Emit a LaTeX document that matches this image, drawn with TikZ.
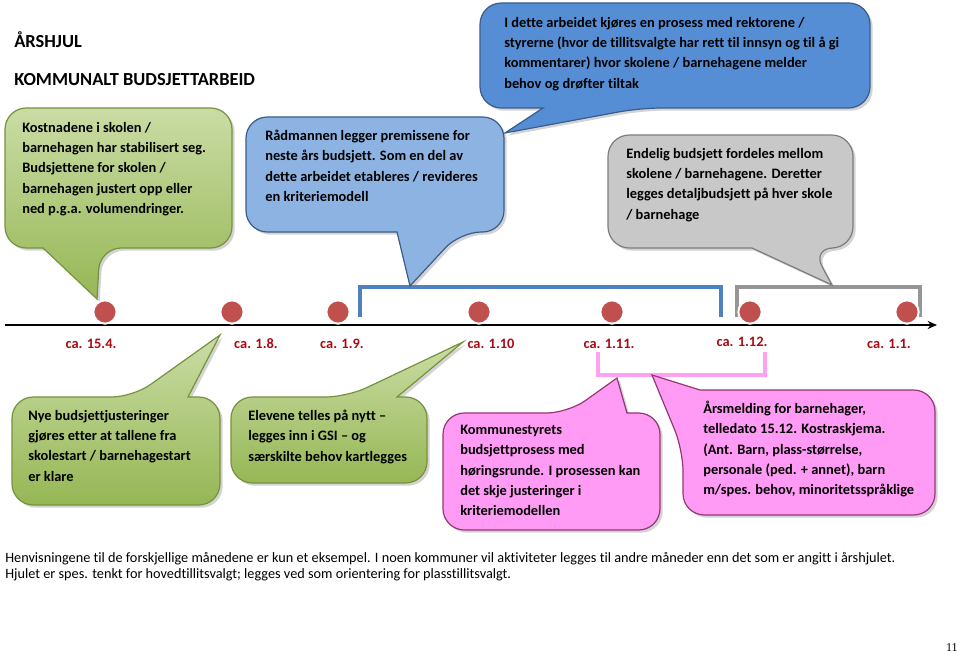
\documentclass[tikz,border=0pt]{standalone}
\usepackage{fontspec}
\setmainfont{Carlito}[Ligatures=NoCommon]
\newfontfamily\pagefont{Liberation Serif}
\usetikzlibrary{shadows,arrows.meta}

\definecolor{greentop}{RGB}{202,220,165}
\definecolor{greenbot}{RGB}{150,183,85}
\definecolor{greenline}{RGB}{118,146,60}
\definecolor{bluedark}{RGB}{85,142,213}
\definecolor{bluelight}{RGB}{141,179,226}
\definecolor{blueline}{RGB}{56,93,138}
\definecolor{grayfill}{RGB}{200,200,200}
\definecolor{grayline}{RGB}{125,125,125}
\definecolor{pinkfill}{RGB}{255,155,245}
\definecolor{pinkline}{RGB}{150,55,115}
\definecolor{dotred}{RGB}{192,80,77}
\definecolor{datered}{RGB}{170,10,20}
\definecolor{barblue}{RGB}{79,129,189}
\definecolor{bargray}{RGB}{150,150,150}
\definecolor{barpink}{RGB}{255,160,240}

\tikzset{
  bubble/.style={rounded corners=16, line width=0.9pt,
    drop shadow={shadow xshift=2pt, shadow yshift=-2pt, opacity=0.35}},
  greenbubble/.style={bubble, draw=greenline, top color=greentop, bottom color=greenbot},
  darkbubble/.style={bubble, draw=blueline, fill=bluedark},
  lightbubble/.style={bubble, draw=blueline, fill=bluelight},
  graybubble/.style={bubble, draw=grayline, fill=grayfill},
  pinkbubble/.style={bubble, draw=pinkline, fill=pinkfill},
  bubbletext/.style={anchor=north west, inner sep=0pt, align=left,
    font=\fontsize{10.8}{15.2}\selectfont\bfseries},
  datelabel/.style={anchor=base, inner sep=0pt, text=datered,
    font=\fontsize{10.8}{13}\selectfont\bfseries},
  datedot/.style={circle, fill=dotred, draw=white, line width=1.5pt,
    minimum size=17.5pt, inner sep=0pt},
  bracket/.style={line width=3pt},
  heading/.style={anchor=base west, inner sep=0pt, font=\fontsize{13.8}{16}\selectfont\bfseries},
}

\begin{document}
\begin{tikzpicture}[x=0.75pt,y=0.75pt,yscale=-1,xscale=1]
\useasboundingbox (0,0) rectangle (960,655);

% headings
\node[heading] (title) at (14,48) {ÅRSHJUL};
\node[heading] (subtitle) at (14,86) {KOMMUNALT BUDSJETTARBEID};

% timeline
\coordinate (tlstart) at (5,325);
\coordinate (tlend) at (937,325);
\draw[line width=2.2pt, -{Stealth[length=7pt,width=6pt]}] (tlstart) -- (tlend);

% brackets
\draw[bracket, draw=barblue] (360,317) -- (360,287) -- (721,287) -- (721,317);
\draw[bracket, draw=bargray, line width=3.6pt] (737,317) -- (737,287) -- (920,287) -- (920,317);
\draw[bracket, draw=barpink] (598,352) -- (598,375) -- (765,375) -- (765,352);

% dates
\node[datedot] (d1) at (105,312) {};
\node[datedot] (d2) at (232,312) {};
\node[datedot] (d3) at (338,312) {};
\node[datedot] (d4) at (479,312) {};
\node[datedot] (d5) at (612,312) {};
\node[datedot] (d6) at (750,312) {};
\node[datedot] (d7) at (907,312) {};

\node[datelabel] (l1) at (91,349) {ca. 15.4.};
\node[datelabel] (l2) at (256,349) {ca. 1.8.};
\node[datelabel] (l3) at (342,349) {ca. 1.9.};
\node[datelabel] (l4) at (491,349) {ca. 1.10};
\node[datelabel] (l5) at (609,349) {ca. 1.11.};
\node[datelabel] (l6) at (742,347) {ca. 1.12.};
\node[datelabel] (l7) at (889,349) {ca. 1.1.};

% pointer tips
\coordinate (kosttip) at (97,299);
\coordinate (radmtip) at (410,286);
\coordinate (prosesstip) at (505,133);
\coordinate (endeligtip) at (832,285);
\coordinate (nyetip) at (220,335);
\coordinate (elevtip) at (463,342);
\coordinate (kommunetip) at (617,378);
\coordinate (aarstip) at (652,375);

% callouts above the line
\path[greenbubble] (5,108) -- (232,108) -- (232,248) -- (100,248) [sharp corners] -- (kosttip) -- (43,248) [rounded corners=16] -- (5,248) -- cycle;
\path[lightbubble] (246,117) -- (504,117) -- (504,232) -- (460,232) [sharp corners] -- (radmtip) -- (397,232) [rounded corners=16] -- (246,232) -- cycle;
\path[darkbubble] (480,3) -- (870,3) -- (870,108) -- (640,108) [sharp corners] -- (prosesstip) -- (543,108) [rounded corners=16] -- (480,108) -- cycle;
\path[graybubble] (608,135) -- (853,135) -- (853,248) -- (812,248) [sharp corners] -- (endeligtip) -- (752,248) [rounded corners=16] -- (608,248) -- cycle;

% callouts below the line
\path[greenbubble] (12,397) -- (133,397) [sharp corners] -- (nyetip) -- (188,397) [rounded corners=16] -- (220,397) -- (220,505) -- (12,505) -- cycle;
\path[greenbubble] (231,397) -- (347,397) [sharp corners] -- (elevtip) -- (397,397) [rounded corners=16] -- (427,397) -- (427,483) -- (231,483) -- cycle;
\path[pinkbubble] (443,413) -- (568,413) [sharp corners] -- (kommunetip) -- (627,413) [rounded corners=16] -- (660,413) -- (660,530) -- (443,530) -- cycle;
\path[pinkbubble] (683,450) [sharp corners] -- (aarstip) -- (700,390) [rounded corners=16] -- (935,390) -- (935,515) -- (683,515) -- cycle;

% callout texts
\node[bubbletext] (kost) at (22,122) {Kostnadene i skolen /\\barnehagen har stabilisert seg.\\Budsjettene for skolen /\\barnehagen justert opp eller\\ned p.g.a. volumendringer.};
\node[bubbletext] (radm) at (265,130) {Rådmannen legger premissene for\\neste års budsjett. Som en del av\\dette arbeidet etableres / revideres\\en kriteriemodell};
\node[bubbletext] (prosess) at (504,17) {I dette arbeidet kjøres en prosess med rektorene /\\styrerne (hvor de tillitsvalgte har rett til innsyn og til å gi\\kommentarer) hvor skolene / barnehagene melder\\behov og drøfter tiltak};
\node[bubbletext] (endelig) at (626,148) {Endelig budsjett fordeles mellom\\skolene / barnehagene. Deretter\\legges detaljbudsjett på hver skole\\/ barnehage};
\node[bubbletext] (nye) at (28,410) {Nye budsjettjusteringer\\gjøres etter at tallene fra\\skolestart / barnehagestart\\er klare};
\node[bubbletext] (elev) at (248,410) {Elevene telles på nytt –\\legges inn i GSI – og\\særskilte behov kartlegges};
\node[bubbletext] (kommune) at (460,425) {Kommunestyrets\\budsjettprosess med\\høringsrunde. I prosessen kan\\det skje justeringer i\\kriteriemodellen};
\node[bubbletext] (aars) at (703,401) {Årsmelding for barnehager,\\telledato 15.12. Kostraskjema.\\(Ant. Barn, plass-størrelse,\\personale (ped. + annet), barn\\m/spes. behov, minoritetsspråklige};

% footnote
\node[anchor=north west, inner sep=0pt, align=left, font=\fontsize{10.7}{12}\selectfont] (note) at (5,552) {Henvisningene til de forskjellige månedene er kun et eksempel. I noen kommuner vil aktiviteter legges til andre måneder enn det som er angitt i årshjulet.\\Hjulet er spes. tenkt for hovedtillitsvalgt; legges ved som orientering for plasstillitsvalgt.};
\node[anchor=base east, inner sep=0pt, font=\pagefont\fontsize{9}{10}\selectfont] (pagenum) at (958,651) {11};

\end{tikzpicture}
\end{document}
